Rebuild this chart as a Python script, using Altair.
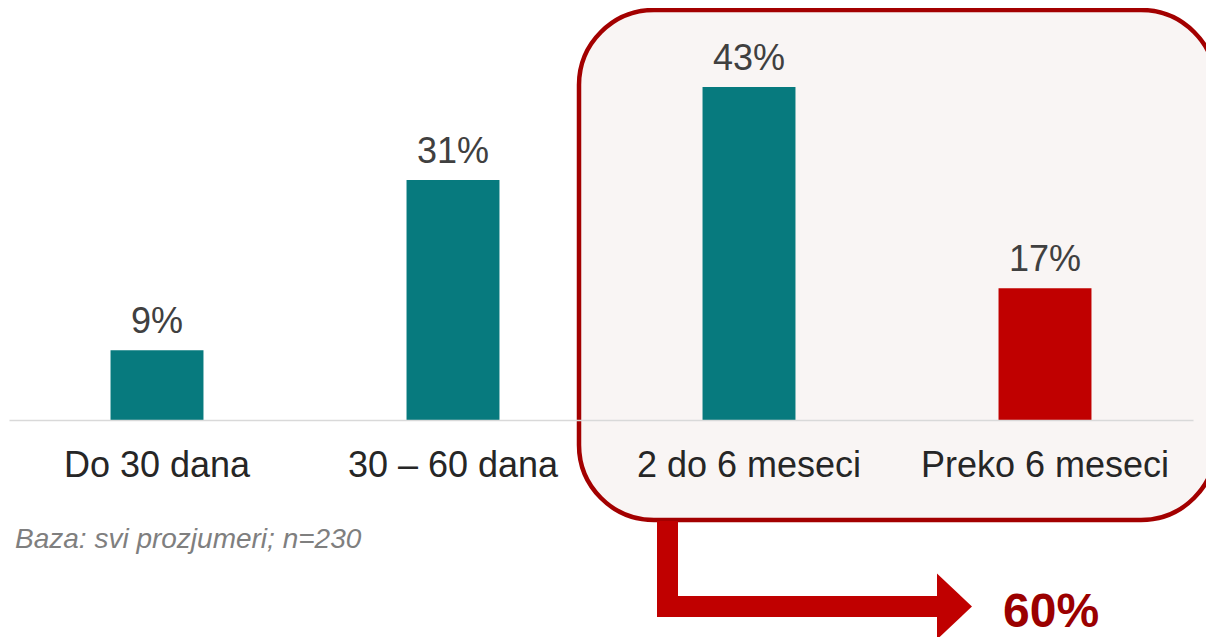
import altair as alt
import pandas as pd

categories = ["Do 30 dana", "30 – 60 dana", "2 do 6 meseci", "Preko 6 meseci"]
values = [9, 31, 43, 17]
value_labels = ["9%", "31%", "43%", "17%"]
highlight = [False, False, False, True]
footnote = "Baza: svi prozjumeri; n=230"
total_label = "60%"

df = pd.DataFrame({
    "cat": categories,
    "val": values,
    "lab": value_labels,
    "hi": highlight,
})
one = pd.DataFrame({"k": [0]})

FONT = "Liberation Sans"
TEAL = "#077a7e"
RED = "#c00000"

xenc = alt.X("cat:N", sort=categories,
             scale=alt.Scale(range=[1, 1185], paddingInner=0.686, paddingOuter=0.343),
             axis=alt.Axis(title=None, labelAngle=0, ticks=False, tickSize=0,
                           labelPadding=28, labelFontSize=36, labelFont=FONT,
                           labelColor="#262626", domainColor="#d9d9d9",
                           domainWidth=1.5, zindex=1, labelLimit=400))
yenc = alt.Y("val:Q", scale=alt.Scale(domain=[0, 53.2]), axis=None)

box = alt.Chart(one).mark_rect(
    fill="#f9f5f4", stroke="#a30000", strokeWidth=4.5, cornerRadius=75
).encode(x=alt.value(571), x2=alt.value(1208), y=alt.value(2), y2=alt.value(512))

bars = alt.Chart(df).mark_bar().encode(
    x=xenc, y=yenc,
    color=alt.condition("datum.hi", alt.value(RED), alt.value(TEAL)),
)

labels = alt.Chart(df).mark_text(
    font=FONT, fontSize=36, color="#404040", baseline="alphabetic", dy=-17
).encode(x=alt.X("cat:N", sort=categories), y=yenc, text="lab:N")

shaft_v = alt.Chart(one).mark_rect(color=RED).encode(
    x=alt.value(649), x2=alt.value(670), y=alt.value(513), y2=alt.value(609))
shaft_h = alt.Chart(one).mark_rect(color=RED).encode(
    x=alt.value(649), x2=alt.value(931), y=alt.value(588), y2=alt.value(609))
head = alt.Chart(one).mark_point(
    shape="M0,-1L1.06,0L0,1Z", filled=True, fill=RED, opacity=1, strokeWidth=0, size=4356
).encode(x=alt.value(929), y=alt.value(598.5))

total = alt.Chart(one).mark_text(
    text=total_label, font=FONT, fontSize=48, fontWeight="bold", color="#9b0000",
    align="left", baseline="alphabetic"
).encode(x=alt.value(995), y=alt.value(619))

note = alt.Chart(one).mark_text(
    text=footnote, font=FONT, fontSize=28, fontStyle="italic", color="#7f7f7f",
    align="left", baseline="alphabetic"
).encode(x=alt.value(7), y=alt.value(540))

chart = alt.layer(box, bars, labels, shaft_v, shaft_h, head, total, note).properties(
    width=1198, height=412,
    autosize="none",
    background="white",
    padding={"left": 0, "top": 0, "right": 0, "bottom": 217},
).configure_view(stroke=None)

chart.save("out.html", embed_options={"renderer": "svg", "actions": False})
